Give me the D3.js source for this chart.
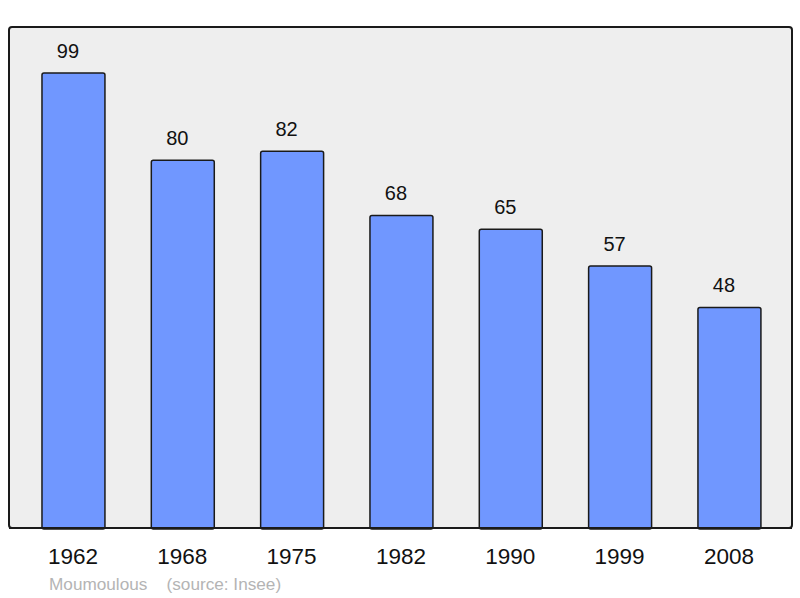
<!DOCTYPE html>
<html>
<head>
<meta charset="utf-8">
<script src="https://cdn.jsdelivr.net/npm/d3@7"></script>
<style>
  body { margin: 0; background: #fff; }
  text { font-family: "Liberation Sans", Arial, sans-serif; }
</style>
</head>
<body>
<div id="chart"></div>
<script>
var years = ["1962", "1968", "1975", "1982", "1990", "1999", "2008"];
var population = [99, 80, 82, 68, 65, 57, 48];
var commune = "Moumoulous";
var source = "(source: Insee)";

var svg = d3.select("#chart").append("svg")
  .attr("width", 800)
  .attr("height", 598);

// plot frame
svg.append("rect")
  .attr("x", 9).attr("y", 27)
  .attr("width", 783).attr("height", 501)
  .attr("rx", 3)
  .attr("fill", "#eeeeee")
  .attr("stroke", "#1a1a1a")
  .attr("stroke-width", 2);

var x = d3.scaleBand()
  .domain(years)
  .range([18.8, 784.1])
  .paddingInner(0.424)
  .paddingOuter(0.212);

var y = d3.scaleLinear()
  .domain([0, 99])
  .range([528, 73]);

var data = years.map(function (d, i) { return { year: d, value: population[i] }; });

svg.selectAll("rect.bar")
  .data(data)
  .enter()
  .append("rect")
    .attr("class", "bar")
    .attr("x", function (d) { return x(d.year); })
    .attr("y", function (d) { return y(d.value); })
    .attr("width", x.bandwidth())
    .attr("height", function (d) { return y(0) - y(d.value) + 1; })
    .attr("rx", 2)
    .attr("fill", "#7097ff")
    .attr("stroke", "#1a1a1a")
    .attr("stroke-width", 1.5);

// redraw frame bottom over bar ends
svg.append("line")
  .attr("x1", 9).attr("x2", 792)
  .attr("y1", 528).attr("y2", 528)
  .attr("stroke", "#1a1a1a")
  .attr("stroke-width", 2);

// value labels sit a bit left of the bar centre, like the original
svg.selectAll("text.value")
  .data(data)
  .enter()
  .append("text")
    .attr("class", "value")
    .attr("x", function (d) { return x(d.year) + x.bandwidth() / 2 - 5.5; })
    .attr("y", function (d) { return y(d.value) - 15; })
    .attr("text-anchor", "middle")
    .style("font-size", "20px")
    .style("fill", "#111")
    .text(function (d) { return d.value; });

svg.selectAll("text.year")
  .data(years)
  .enter()
  .append("text")
    .attr("class", "year")
    .attr("x", function (d) { return x(d) + x.bandwidth() / 2 - 0.5; })
    .attr("y", 564)
    .attr("text-anchor", "middle")
    .style("font-size", "22.5px")
    .style("fill", "#111")
    .text(function (d) { return d; });

svg.append("text")
  .attr("x", 49).attr("y", 590)
  .style("font-size", "17.2px")
  .style("fill", "#b4b4b4")
  .style("white-space", "pre")
  .text(commune + "    " + source);
</script>
</body>
</html>
